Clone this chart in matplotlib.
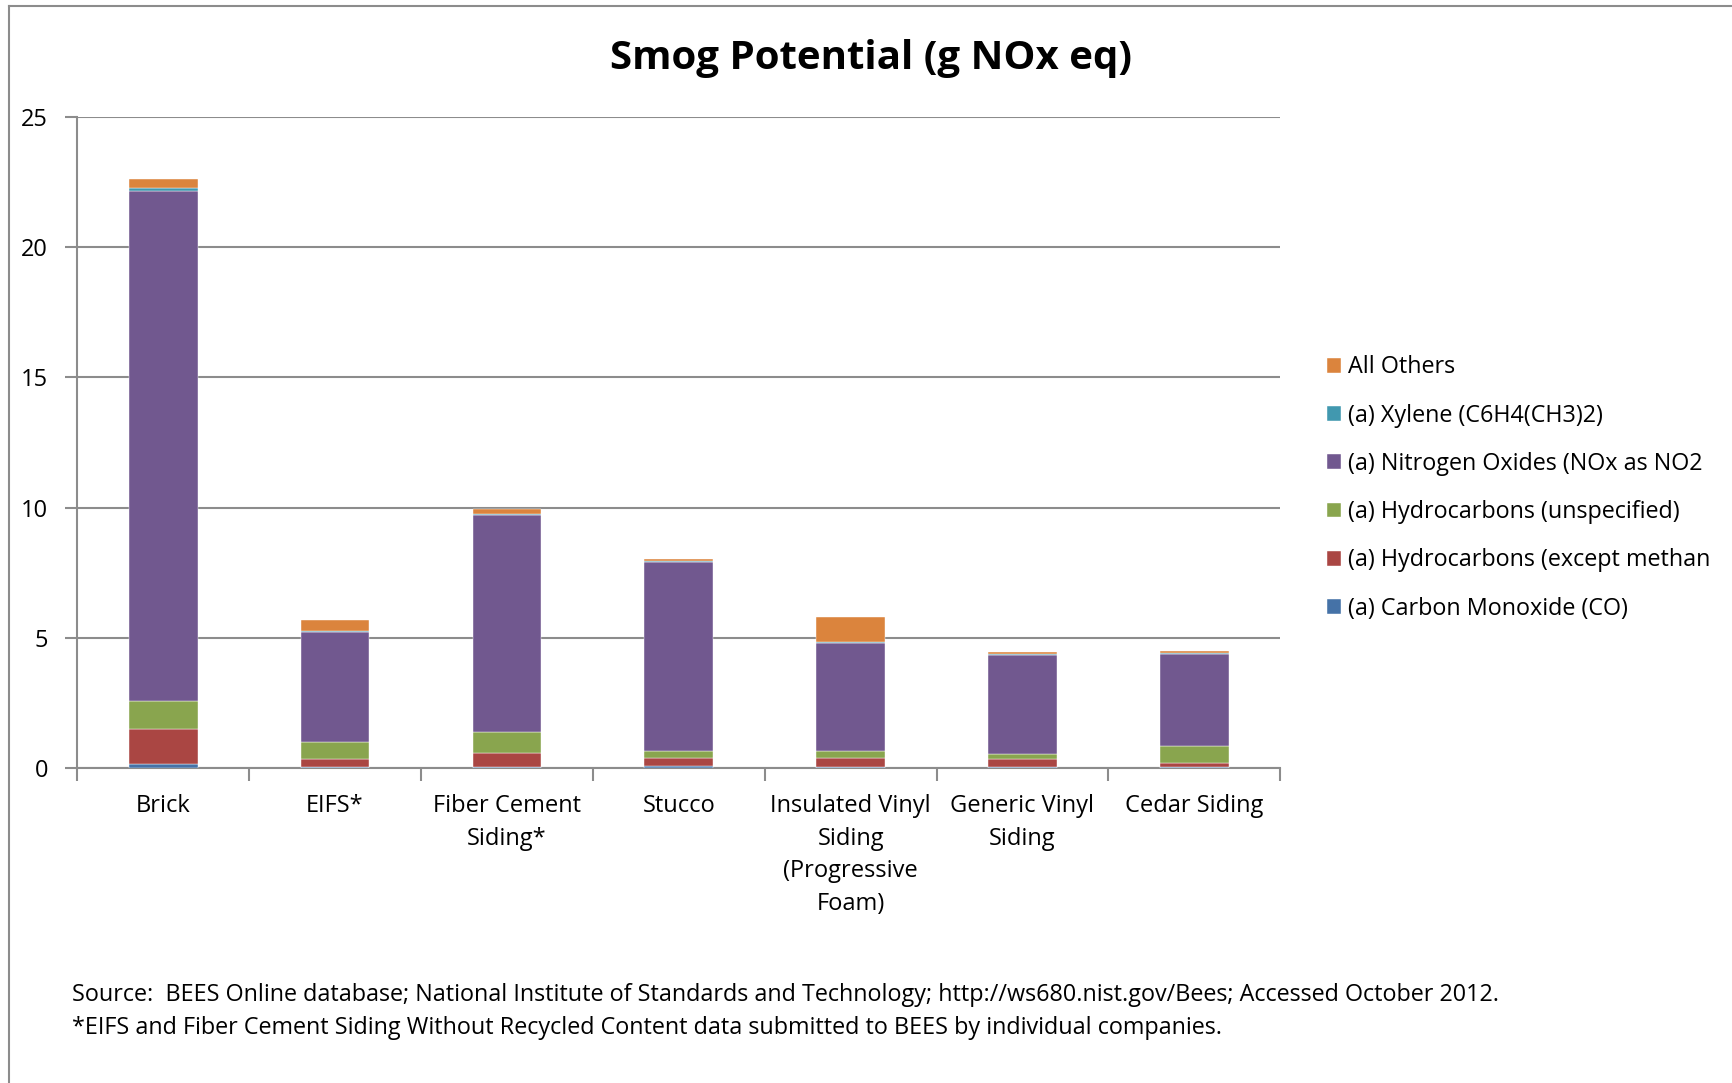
import matplotlib
matplotlib.use('Agg')
from matplotlib import pyplot
from matplotlib.lines import Line2D
import numpy as np

categories = ['Brick', 'EIFS*', 'Fiber Cement\nSiding*', 'Stucco',
              'Insulated Vinyl\nSiding\n(Progressive\nFoam)', 'Generic Vinyl\nSiding', 'Cedar Siding']

# stacked from the bottom up
carbon_monoxide = [0.13, 0.02, 0.03, 0.05, 0.02, 0.02, 0.02]
hc_except_methane = [1.35, 0.33, 0.52, 0.33, 0.36, 0.30, 0.18]
hc_unspecified = [1.07, 0.64, 0.81, 0.25, 0.25, 0.20, 0.62]
nitrogen_oxides = [19.62, 4.21, 8.35, 7.28, 4.16, 3.82, 3.56]
xylene = [0.11, 0.04, 0.04, 0.02, 0.05, 0.04, 0.02]
all_others = [0.35, 0.45, 0.19, 0.11, 0.95, 0.05, 0.09]

series_labels = ['(a) Carbon Monoxide (CO)', '(a) Hydrocarbons (except methan',
                 '(a) Hydrocarbons (unspecified)', '(a) Nitrogen Oxides (NOx as NO2',
                 '(a) Xylene (C6H4(CH3)2)', 'All Others']
series_colors = ['#4572A7', '#AA4643', '#89A54E', '#71588F', '#4198AF', '#DB843D']

pyplot.rcParams['font.family'] = ['Open Sans', 'DejaVu Sans']

fig = pyplot.figure(figsize=(17.32, 10.83), dpi=100)
ax = fig.add_axes([0.0446, 0.2911, 0.6946, 0.6006])

x = np.arange(len(categories))
bottom = np.zeros(len(categories))
handles = []
for vals, lab, col in zip([carbon_monoxide, hc_except_methane, hc_unspecified,
                           nitrogen_oxides, xylene, all_others], series_labels, series_colors):
    b = ax.bar(x, vals, 0.4, bottom=bottom, color=col, label=lab, zorder=3,
               edgecolor='white', linewidth=0.3)
    bottom += np.array(vals)
    handles.append(b)

ax.set_xlim(-0.5, len(categories) - 0.5)
ax.set_ylim(0, 25)
ax.set_yticks([0, 5, 10, 15, 20, 25])
ax.yaxis.grid(True, color='#8C8C8C', linewidth=1.5, zorder=0)
ax.set_axisbelow(True)

ax.set_xticks(x)
ax.set_xticklabels(categories, fontsize=17, linespacing=1.48, va='top')
ax.set_xticks(np.arange(-0.5, len(categories)), minor=True)
ax.tick_params(axis='x', which='major', length=0, pad=19)
ax.tick_params(axis='x', which='minor', length=9, width=1.5, color='#8C8C8C', direction='out')
ax.tick_params(axis='y', length=9, width=1.5, color='#8C8C8C', labelsize=17, pad=12)

for s in ['top', 'right']:
    ax.spines[s].set_visible(False)
for s in ['left', 'bottom']:
    ax.spines[s].set_color('#8C8C8C')
    ax.spines[s].set_linewidth(1.5)

fig.text(0.503, 0.946, 'Smog Potential (g NOx eq)', fontsize=29, fontweight='bold',
         ha='center', va='center')

ax.legend(handles[::-1], series_labels[::-1], loc='center left', bbox_to_anchor=(1.031, 0.43),
          frameon=False, fontsize=16.8, handlelength=0.6, handleheight=0.6, handletextpad=0.3,
          labelspacing=1.04, borderaxespad=0)

fig.text(0.0416, 0.081, 'Source:  BEES Online database; National Institute of Standards and Technology; '
         'http://ws680.nist.gov/Bees; Accessed October 2012.', fontsize=16.8, va='center')
fig.text(0.0416, 0.051, '*EIFS and Fiber Cement Siding Without Recycled Content data submitted '
         'to BEES by individual companies.', fontsize=16.8, va='center')

# chart area border
fig.add_artist(Line2D([0.0052, 0.0052], [0, 0.994], color='#8C8C8C', linewidth=1.5))
fig.add_artist(Line2D([0.0052, 1.0], [0.994, 0.994], color='#8C8C8C', linewidth=1.5))

pyplot.savefig('out.png', dpi=100)
